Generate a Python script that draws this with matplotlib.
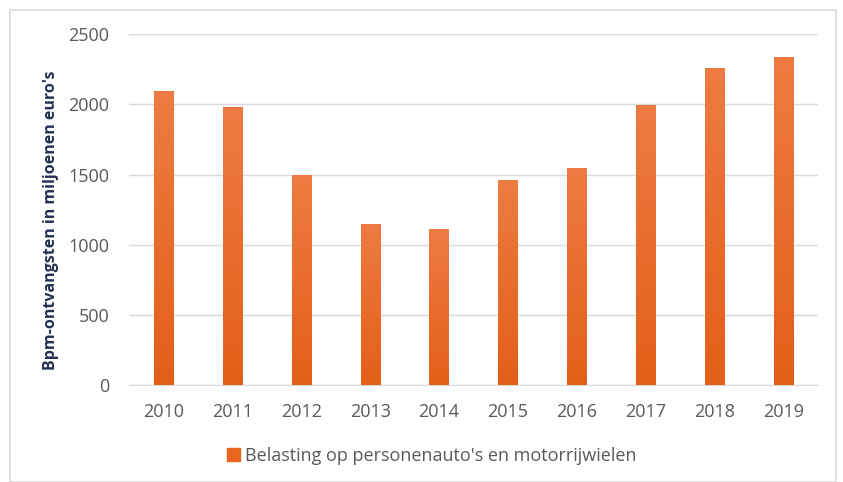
import numpy as np
import matplotlib
matplotlib.use("Agg")
import matplotlib.pyplot as plt
from matplotlib.patches import Rectangle, Patch
from matplotlib.colors import LinearSegmentedColormap

# Data
years = ["2010", "2011", "2012", "2013", "2014", "2015", "2016", "2017", "2018", "2019"]
bpm = [2095, 1980, 1500, 1150, 1112, 1462, 1545, 1997, 2260, 2338]
series_name = "Belasting op personenauto's en motorrijwielen"

plt.rcParams['font.family'] = ['Open Sans', 'DejaVu Sans']

fig = plt.figure(figsize=(8.43, 4.82), dpi=100)
ax = fig.add_axes([129 / 843, 1 - 385 / 482, (818 - 129) / 843, (385 - 34.3) / 482])

x = np.arange(len(years))
bars = ax.bar(x, bpm, width=0.28, color="#ea6a25", zorder=2)

# light-to-dark orange gradient in every bar
cmap = LinearSegmentedColormap.from_list("orange", ["#e35f18", "#ee7b42"])
grad = np.linspace(0, 1, 256).reshape(-1, 1)
for b in bars:
    x0, w, h = b.get_x(), b.get_width(), b.get_height()
    im = ax.imshow(grad, cmap=cmap, aspect="auto", origin="lower",
                   extent=[x0, x0 + w, 0, h], zorder=3)
    im.set_clip_path(b)

ax.set_xlim(-0.5, len(years) - 0.5)
ax.set_ylim(0, 2500)
ax.set_yticks(np.arange(0, 2501, 500))
ax.set_xticks(x)
ax.set_xticklabels(years)
ax.grid(axis="y", color="#d9d9d9", linewidth=1.0, zorder=0)
ax.set_axisbelow(True)
for s in ["top", "right", "left"]:
    ax.spines[s].set_visible(False)
ax.spines["bottom"].set_color("#d9d9d9")
ax.tick_params(length=0, labelsize=13, colors="#595959")
ax.tick_params(axis="x", pad=13)
ax.tick_params(axis="y", pad=14)

ax.set_ylabel("Bpm-ontvangsten in miljoenen euro's", fontsize=11.5,
              fontweight="bold", color="#243152")
ax.yaxis.set_label_coords(-0.102, 0.47)

fig.legend(handles=[Patch(color="#e8661f", label=series_name)],
           loc="center", bbox_to_anchor=(432 / 843, 1 - 456 / 482),
           frameon=False, fontsize=13, labelcolor="#595959",
           handlelength=0.7, handleheight=0.7, handletextpad=0.3)

# thin grey frame around the chart area
fig.patches.append(Rectangle((10 / 843, 0), (836 - 10) / 843, 1 - 10 / 482,
                             transform=fig.transFigure, fill=False,
                             edgecolor="#dcdcdc", linewidth=1.2))

fig.savefig("out.png", dpi=100)
